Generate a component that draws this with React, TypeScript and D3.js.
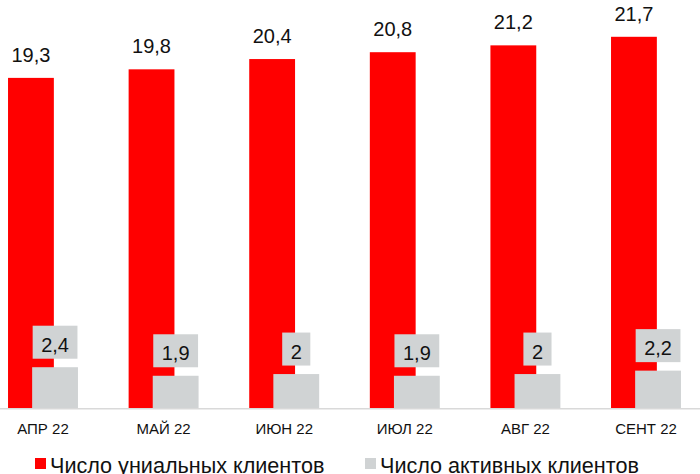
import React from "react";
import * as d3 from "d3";

const months = ["АПР 22", "МАЙ 22", "ИЮН 22", "ИЮЛ 22", "АВГ 22", "СЕНТ 22"];
const uniqueClients = [19.3, 19.8, 20.4, 20.8, 21.2, 21.7];
const activeClients = [2.4, 1.9, 2.0, 1.9, 2.0, 2.2];
const seriesNames = ["Число униальных клиентов", "Число активных клиентов"];
const colors = ["#FF0000", "#D0D3D4"];

const W = 700;
const H = 474;
const FONT = "'Liberation Sans', Arial, sans-serif";

const fmt = (v: number) => String(v).replace(".", ",");

let ctx: CanvasRenderingContext2D | null = null;
function measure(text: string, size: number) {
  if (!ctx) ctx = document.createElement("canvas").getContext("2d");
  if (!ctx) return text.length * size * 0.55;
  ctx.font = `${size}px ${FONT}`;
  return ctx.measureText(text).width;
}

export default function App() {
  const x = d3.scaleBand<string>().domain(months).range([-17.3, 706.3]).padding(0);
  const y = d3.scaleLinear().domain([0, 20]).range([408.3, 408.3 - 342.4]);
  const bw = x.bandwidth();
  const barW = bw * 0.38;
  const redOff = -bw * 0.29;
  const greyOff = -bw * 0.09;

  return (
    <svg width={W} height={H} style={{ position: "absolute", left: 0, top: 0 }} fontFamily={FONT}>
      <rect width={W} height={H} fill="#fff" />
      {months.map((m, i) => {
        const c = (x(m) as number) + bw / 2;
        const rx = c + redOff;
        const gx = c + greyOff;
        const ry = y(uniqueClients[i]);
        const gy = y(activeClients[i]);
        const gl = fmt(activeClients[i]);
        const tw = measure(gl, 20);
        const boxW = tw + 17;
        const boxH = 33;
        const boxBottom = gy - 8.5;
        return (
          <g key={m}>
            <rect x={rx} y={ry} width={barW} height={y(0) - ry} fill={colors[0]} />
            <rect x={gx} y={gy} width={barW} height={y(0) - gy} fill={colors[1]} />
            <text x={rx + barW / 2} y={ry - 16} textAnchor="middle" fontSize={20} fill="#111">
              {fmt(uniqueClients[i])}
            </text>
            <rect x={gx + barW / 2 - boxW / 2} y={boxBottom - boxH} width={boxW} height={boxH} fill={colors[1]} />
            <text x={gx + barW / 2} y={boxBottom - 7} textAnchor="middle" fontSize={20} fill="#111">
              {gl}
            </text>
            <text x={c} y={434} textAnchor="middle" fontSize={15} fill="#111">
              {m}
            </text>
          </g>
        );
      })}
      <line x1={0} x2={W} y1={y(0) + 0.5} y2={y(0) + 0.5} stroke="#D9D9D9" strokeWidth={1.5} />
      {seriesNames.map((s, i) => {
        const lx = i === 0 ? 35 : 365;
        return (
          <g key={s}>
            <rect x={lx} y={458} width={11} height={11} fill={colors[i]} />
            <text x={lx + 15} y={472.5} fontSize={21.6} fill="#111">
              {s}
            </text>
          </g>
        );
      })}
    </svg>
  );
}
